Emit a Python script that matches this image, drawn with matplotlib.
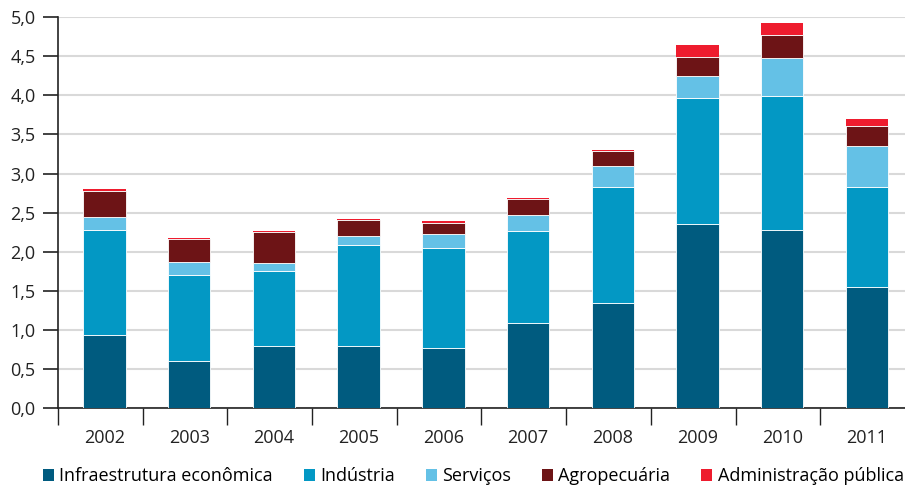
import numpy as np
import matplotlib.pyplot as plt
from matplotlib.patches import Patch
from matplotlib.ticker import FuncFormatter

plt.rcParams['font.family'] = ['Open Sans', 'DejaVu Sans']

years = ['2002', '2003', '2004', '2005', '2006', '2007', '2008', '2009', '2010', '2011']
infra = [0.93, 0.60, 0.79, 0.80, 0.775, 1.095, 1.35, 2.35, 2.28, 1.555]
industria = [1.35, 1.10, 0.97, 1.29, 1.275, 1.175, 1.48, 1.62, 1.705, 1.275]
servicos = [0.16, 0.17, 0.10, 0.11, 0.175, 0.20, 0.26, 0.28, 0.485, 0.52]
agro = [0.34, 0.295, 0.39, 0.20, 0.145, 0.21, 0.20, 0.24, 0.30, 0.26]
admin = [0.02, 0.015, 0.02, 0.02, 0.02, 0.01, 0.01, 0.15, 0.15, 0.09]

series = [infra, industria, servicos, agro, admin]
labels = ['Infraestrutura econômica', 'Indústria', 'Serviços', 'Agropecuária', 'Administração pública']
colors = ['#005b7f', '#0398c4', '#64c1e6', '#6d1416', '#ee1c2e']

fig = plt.figure(figsize=(9.05, 4.86), dpi=100)
ax = fig.add_axes([0.064, 0.16, 0.936, 0.805])

x = np.arange(len(years))
bottom = np.zeros(len(years))
for i, (vals, c) in enumerate(zip(series, colors)):
	ec = 'white' if i < 4 else 'none'
	ax.bar(x, vals, 0.5, bottom=bottom, color=c, edgecolor=ec, linewidth=0.6, zorder=3)
	bottom += np.array(vals)

ax.set_ylim(0, 5)
ax.set_xlim(-0.55, 9.45)
ax.set_yticks(np.arange(0, 5.01, 0.5))
ax.yaxis.set_major_formatter(FuncFormatter(lambda v, p: '{:.1f}'.format(v).replace('.', ',')))
ax.grid(axis='y', color='#d9d9d9', linewidth=1.5, zorder=0)

ax.set_xticks(x)
ax.set_xticklabels(years)
ax.set_xticks(x - 0.55, minor=True)
ax.tick_params(axis='x', which='major', length=0, pad=15, labelsize=13, colors='#222222')
ax.tick_params(axis='x', which='minor', length=12, width=1, color='#222222')
ax.tick_params(axis='y', length=11, width=1.2, pad=5, labelsize=13, colors='#222222')

for s in ['top', 'right']:
	ax.spines[s].set_visible(False)
ax.spines['left'].set_linewidth(1.2)
ax.spines['bottom'].set_linewidth(1.2)
ax.spines['left'].set_color('#222222')
ax.spines['bottom'].set_color('#222222')

handles = [Patch(facecolor=c, label=l) for c, l in zip(colors, labels)]
fig.legend(handles=handles, loc='center', bbox_to_anchor=(0.523, 0.02), ncol=5, frameon=False,
	fontsize=13, handlelength=0.6, handleheight=0.7, handletextpad=0.3, columnspacing=1.72)

fig.savefig('out.png', dpi=100)
